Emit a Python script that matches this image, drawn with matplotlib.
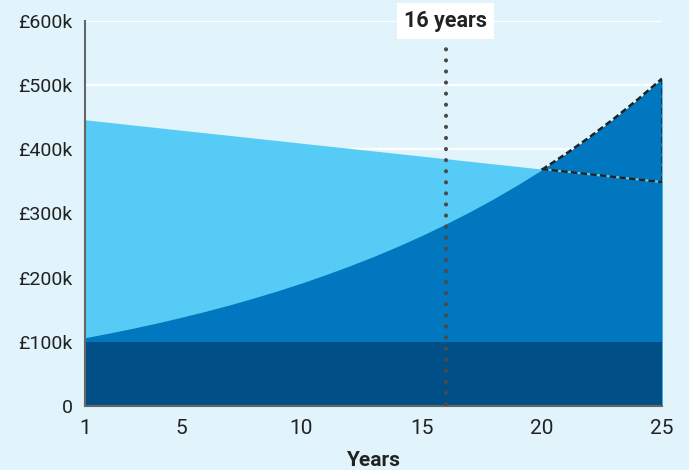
import matplotlib
matplotlib.use("Agg")
import matplotlib.pyplot as plt

years = list(range(1, 26))
base = [100] * 25
growth = [106.4, 113.6, 121.2, 129.4, 138.2, 147.5, 157.4, 168.1, 179.4, 191.5,
          204.5, 218.3, 233.0, 248.7, 265.5, 283.5, 302.6, 323.0, 344.8, 368.1,
          392.9, 419.4, 447.8, 478.0, 510.2]
decline = [446, 442, 437.9, 433.9, 429.8, 425.8, 421.8, 417.7, 413.7, 409.6,
           405.6, 401.6, 397.5, 393.5, 389.4, 385.4, 381.4, 377.3, 373.3, 369.2,
           365.2, 361.2, 357.1, 353.1, 349.0]
yticks = [0, 100, 200, 300, 400, 500, 600]
ytick_labels = ["0", "£100k", "£200k", "£300k", "£400k", "£500k", "£600k"]
xticks = [1, 5, 10, 15, 20, 25]
marker_year = 16
marker_top = 563
marker_label = "16 years"
cross_year = 20

plt.rcParams['font.family'] = ['Roboto', 'DejaVu Sans']
bg = "#E1F3FB"
light = "#56CBF5"
fig = plt.figure(figsize=(6.89, 4.70), dpi=100, facecolor=bg)
ax = fig.add_axes([85/689, 1-406/470, (662-85)/689, (406-21)/470])
ax.set_facecolor(bg)

ax.fill_between(years, 0, decline, color=light, lw=0, zorder=2)
ax.fill_between(years, 0, growth, color="#0077BF", lw=0, zorder=3)
ax.fill_between(years, 0, base, color="#004F86", lw=0, zorder=4)

i0 = years.index(cross_year)
ax.plot(years[i0:], decline[i0:], color=light, lw=1.6, zorder=5)
dash = dict(color="#222222", lw=1.8, ls=(0, (2.6, 1.3)), zorder=6)
ax.plot(years[i0:], growth[i0:], **dash)
ax.plot(years[i0:], decline[i0:], **dash)
ax.plot([years[-1], years[-1]], [decline[-1], growth[-1]], **dash)

ax.set_xlim(1, 25)
ax.set_ylim(0, 600)
ax.set_yticks(yticks)
ax.set_yticklabels(ytick_labels)
ax.set_xticks(xticks)
ax.grid(axis='y', color='white', lw=1.5, zorder=1)
ax.tick_params(axis='y', length=0, labelsize=14, colors="#222222", pad=9)
ax.tick_params(axis='x', length=0, labelsize=15, colors="#222222", pad=9)
for s in ["top", "right"]:
    ax.spines[s].set_visible(False)
for s in ["left", "bottom"]:
    ax.spines[s].set_color("#666666")
    ax.spines[s].set_linewidth(1.5)
    ax.spines[s].set_zorder(7)

ax.plot([marker_year, marker_year], [3, marker_top], color="#4a4a4a", lw=3.0,
        ls=(0, (0.01, 2.65)), dash_capstyle='round', zorder=8, clip_on=False)
ax.text(marker_year, 600, marker_label, ha='center', va='center', fontsize=15.5,
        fontweight='bold', color="#222222", zorder=9,
        bbox=dict(boxstyle='square,pad=0.32', fc='white', ec='none'))

ax.set_xlabel("Years", fontsize=15, fontweight='bold', color="#222222", labelpad=10)

fig.savefig("out.png", dpi=100, facecolor=bg)
